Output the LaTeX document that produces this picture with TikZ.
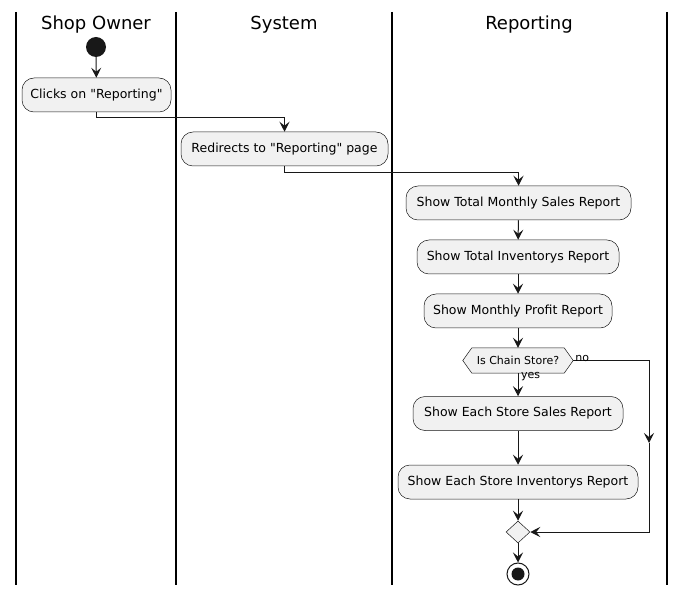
\documentclass[tikz,border=0pt]{standalone}
\usepackage{fontspec}
\setmainfont{DejaVu Sans}[Ligatures=TeXOff]
\usetikzlibrary{arrows.meta,shapes.geometric}
\definecolor{edge}{HTML}{181818}
\definecolor{boxfill}{HTML}{F1F1F1}
\tikzset{
  act/.style={rectangle, rounded corners=12pt, draw=edge, line width=0.5pt, fill=boxfill,
    minimum height=34pt, inner sep=0pt, font=\fontsize{12.5}{14}\selectfont},
  arr/.style={draw=edge, line width=1pt, -{Stealth[length=10pt,width=10pt,inset=4pt]}},
  plain/.style={draw=edge, line width=1pt},
  lane/.style={draw=black, line width=1.5pt},
  title/.style={font=\fontsize{18}{20}\selectfont},
  lbl/.style={font=\fontsize{11}{13}\selectfont, inner sep=0pt},
}
\begin{document}
\begin{tikzpicture}[x=1pt,y=-1pt]
\useasboundingbox (0,0) rectangle (686,596);
% lanes
\draw[lane] (16,12) -- (16,585);
\draw[lane] (176,12) -- (176,585);
\draw[lane] (392,12) -- (392,585);
\draw[lane] (667,12) -- (667,585);
\node[title] (t1) at (96,24.5) {Shop Owner};
\node[title] (t2) at (284,24.5) {System};
\node[title] (t3) at (529,24.5) {Reporting};
% nodes
\node[circle, fill=edge, minimum size=20pt, inner sep=0pt] (start) at (96,47) {};
\node[act, minimum width=149pt] (clicks) at (96.5,95) {Clicks on "Reporting"};
\node[act, minimum width=207pt] (redir) at (284.5,149) {Redirects to "Reporting" page};
\node[act, minimum width=225pt] (a1) at (518.5,203) {Show Total Monthly Sales Report};
\node[act, minimum width=202pt] (a2) at (518,257) {Show Total Inventorys Report};
\node[act, minimum width=188pt] (a3) at (518,311) {Show Monthly Profit Report};
\node[rectangle, minimum width=110pt, minimum height=25pt, inner sep=0pt, font=\fontsize{11}{13}\selectfont] (dec) at (518,360.5) {Is Chain Store?};
\draw[draw=edge, line width=0.5pt, fill=boxfill] (dec.west) -- ([xshift=9pt]dec.north west) -- ([xshift=-9pt]dec.north east) -- (dec.east) -- ([xshift=-9pt]dec.south east) -- ([xshift=9pt]dec.south west) -- cycle;
\node[font=\fontsize{11}{13}\selectfont] at (dec) {Is Chain Store?};
\node[act, minimum width=210pt] (b1) at (518,413.5) {Show Each Store Sales Report};
\node[act, minimum width=240pt] (b2) at (518,482) {Show Each Store Inventorys Report};
\node[diamond, draw=edge, line width=0.5pt, fill=boxfill, minimum width=24pt, minimum height=22pt, inner sep=0pt, aspect=1.09] (merge) at (518,532) {};
\node[circle, draw=edge, line width=1pt, fill=white, minimum size=22pt, inner sep=0pt] (stop) at (518,574) {};
\node[circle, fill=edge, minimum size=13pt, inner sep=0pt] (stopin) at (518,574) {};
% connectors
\draw[arr] (start) -- (clicks);
\draw[arr] (clicks.south) -- ++(0,5) -| (redir.north);
\draw[arr] (redir.south) -- ++(0,6) -| (a1.north);
\draw[arr] (a1) -- (a2);
\draw[arr] (a2) -- (a3);
\draw[arr] (a3) -- (dec);
\draw[arr] (dec) -- (b1);
\draw[arr] (b1) -- (b2);
\draw[arr] (b2) -- (merge);
\draw[arr] (merge) -- (stop);
\coordinate (ncorner) at (649,360.5);
\coordinate (nmid) at (649,443);
\draw[arr] (dec.east) -- (ncorner) -- (nmid);
\draw[arr] (nmid) |- (merge.east);
\node[lbl, anchor=south west] (nolbl) at ([xshift=2pt,yshift=-1pt]dec.east) {no};
\node[lbl, anchor=north west] (yeslbl) at ([xshift=3pt,yshift=1pt]dec.south) {yes};
\end{tikzpicture}
\end{document}
